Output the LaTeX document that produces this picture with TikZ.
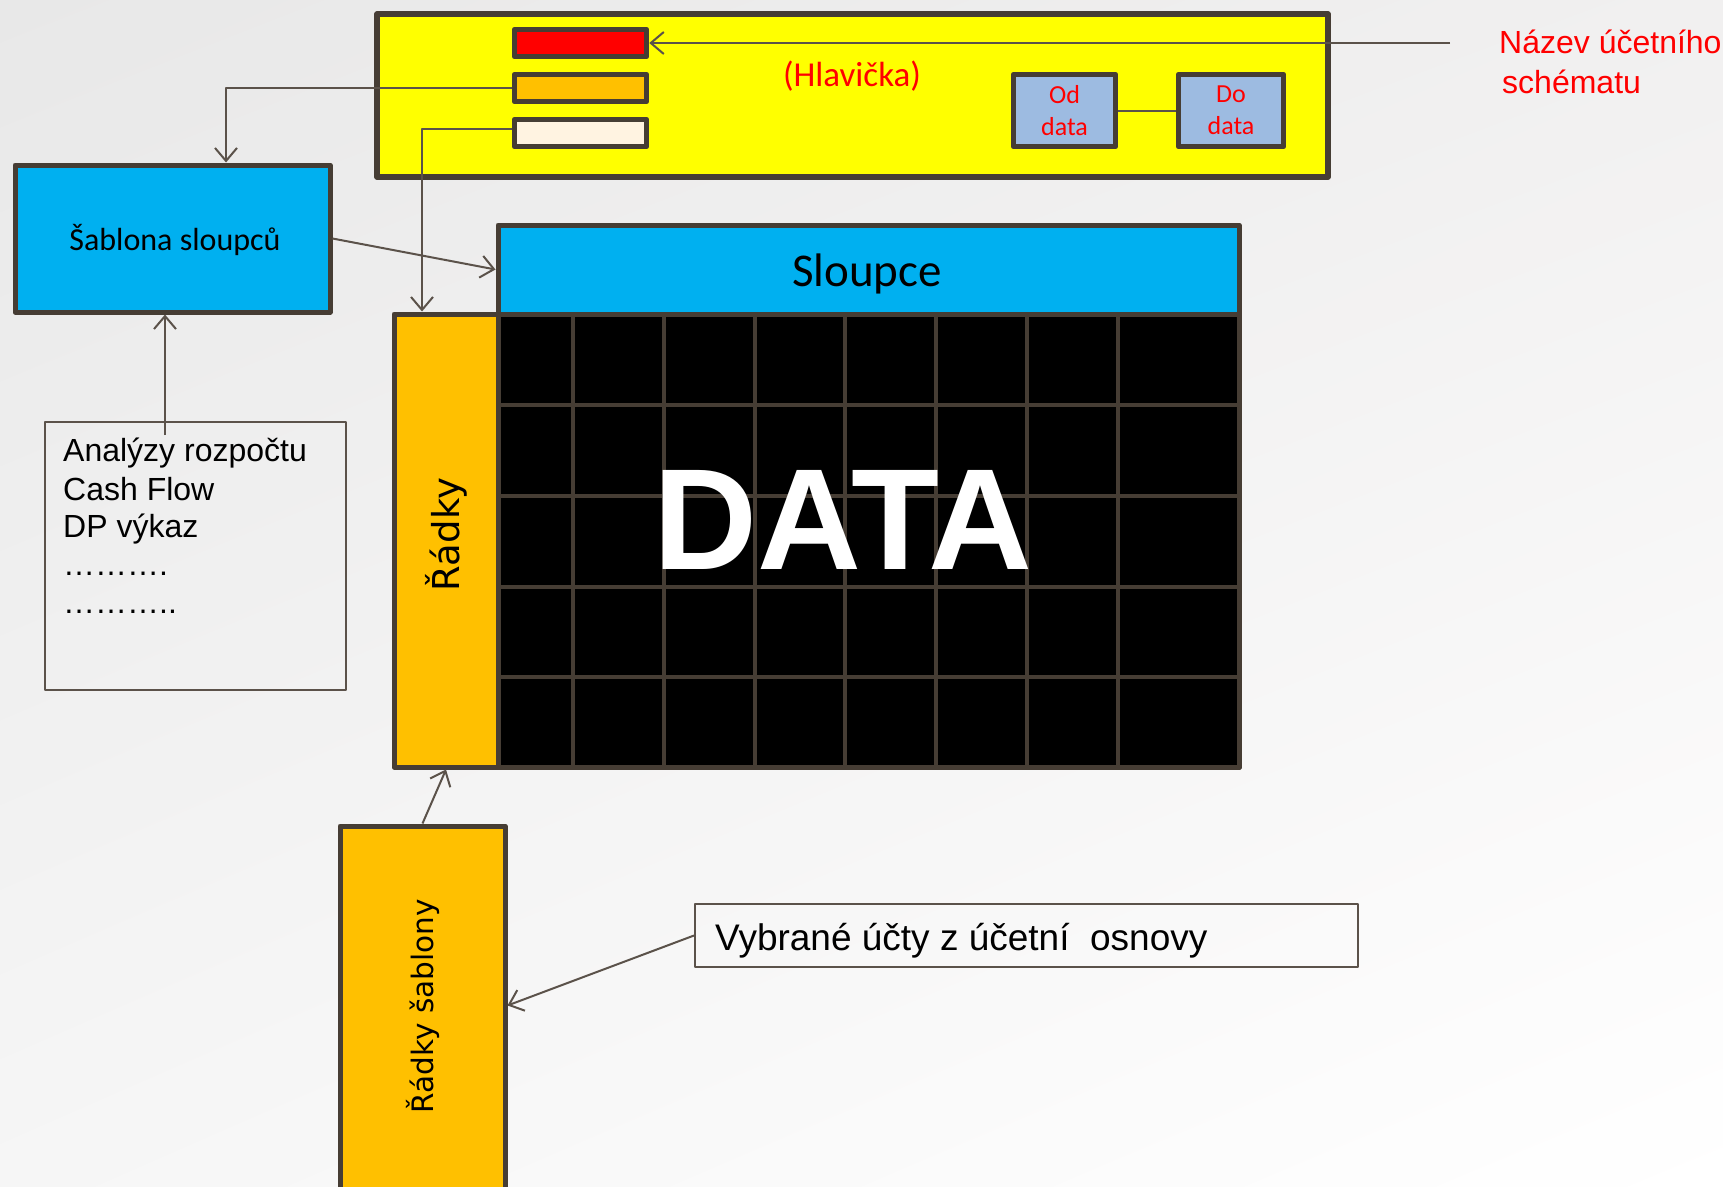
\documentclass[tikz,border=0pt]{standalone}
\usepackage{fontspec}
\setmainfont{Liberation Sans}
\newfontfamily\calfont{Carlito}
\newfontfamily\djfont{DejaVu Sans}
\usetikzlibrary{arrows.meta,calc,shadings}
\definecolor{bord}{HTML}{463D34}
\definecolor{conn}{HTML}{5B524A}
\definecolor{ylw}{HTML}{FFFF00}
\definecolor{rd}{HTML}{FF0000}
\definecolor{org}{HTML}{FFC000}
\definecolor{crm}{HTML}{FFF3E1}
\definecolor{blu}{HTML}{9DBBE1}
\definecolor{cyn}{HTML}{00B0F0}
\definecolor{bgul}{RGB}{232,232,232}
\definecolor{bgur}{RGB}{241,240,240}
\definecolor{bgll}{RGB}{246,246,246}
\definecolor{bglr}{RGB}{255,255,255}
\begin{document}
\begin{tikzpicture}[x=1pt,y=-1pt,line join=round,
  thick box/.style={draw=bord,line width=5.3pt,inner sep=0pt},
  barbox/.style={draw=bord,line width=5.5pt,inner sep=0pt,minimum width=132pt,minimum height=27pt},
  datebox/.style={draw=bord,line width=5.5pt,fill=blu,inner sep=0pt,minimum height=72pt,
    align=center,text=rd,font=\calfont\fontsize{26}{32}\selectfont},
  thinbox/.style={draw=conn,line width=2pt,inner sep=0pt},
  arr/.style={draw=conn,line width=2pt,-{Straight Barb[length=13pt,width=22pt]}},
  plain/.style={draw=conn,line width=2pt},
  gridline/.style={draw=bord,line width=3.5pt},
  txt/.style={inner sep=0pt,anchor=base west,font=\fontsize{32}{38}\selectfont}
]
\useasboundingbox (0,0) rectangle (1723,1186);
\clip (0,0) rectangle (1723,1186);
\shade[upper left=bgul,upper right=bgur,lower left=bgll,lower right=bglr] (0,0) rectangle (1723,1186);

% header
\node[thick box,fill=ylw,minimum width=951pt,minimum height=163pt] (hdr) at (852.5,95.5) {};
\node[barbox,fill=rd] (red) at (580.5,43) {};
\node[barbox,fill=org] (orange) at (580.5,88) {};
\node[barbox,fill=crm] (cream) at (580.5,133) {};
\node[inner sep=0pt,anchor=base,text=rd,font=\calfont\fontsize{35}{40}\selectfont] (hlav) at (852,86) {(Hlavička)};
\node[datebox,minimum width=102pt] (od) at (1064.5,110.5) {Od\\data};
\node[datebox,minimum width=105pt] (do) at (1231,110.5) {Do\\data};
\draw[plain] (od.east) -- (do.west);

% name label
\node[txt,text=rd] (nazev1) at (1499,53) {Název účetního};
\node[txt,text=rd] (nazev2) at (1502,93) {schématu};
\coordinate (nazstart) at (1450,43);

% sablona sloupcu
\node[thick box,line width=5pt,fill=cyn,minimum width=315pt,minimum height=147pt] (sab) at (172.5,238.5) {};
\node[inner sep=0pt,anchor=base,font=\calfont\fontsize{32}{38}\selectfont] (sabtxt) at (175,250) {Šablona sloupců};

% sloupce, data, radky
\node[draw=bord,line width=5pt,fill=cyn,inner sep=0pt,minimum width=741pt,minimum height=89pt] (sloupce) at (868.5,269.5) {};
\node[inner sep=0pt,anchor=base,font=\calfont\fontsize{47}{52}\selectfont] (sltxt) at (867,286) {Sloupce};
\node[draw=bord,line width=5pt,fill=black,inner sep=0pt,minimum width=741pt,minimum height=453pt] (data) at (868.5,540.5) {};
\foreach \gx in {573,664,755,845,936,1027,1118}
  \draw[gridline] (\gx,314) -- (\gx,767);
\foreach \gy in {405,496,587,677}
  \draw[gridline] (498,\gy) -- (1239,\gy);
\node[draw=bord,line width=5pt,inner sep=0pt,minimum width=741pt,minimum height=453pt] (dataframe) at (868.5,540.5) {};
\node[inner sep=0pt,anchor=base,text=white,font=\fontsize{144}{144}\selectfont\bfseries] (datatxt) at (843,569) {DATA};
\node[draw=bord,line width=5pt,fill=org,inner sep=0pt,minimum width=104pt,minimum height=453pt] (radky) at (446,540.5) {};
\node[inner sep=0pt,rotate=90,font=\djfont\fontsize{37}{42}\selectfont] (radtxt) at (446,534.5) {Řádky};

% analyzy box
\node[thinbox,minimum width=301pt,minimum height=268pt] (anbox) at (195.5,556) {};
\node[txt] (an1) at (63,461) {Analýzy rozpočtu};
\node[txt] (an2) at (63,500) {Cash Flow};
\node[txt] (an3) at (63,537) {DP výkaz};
\node[txt] (an4) at (63,575) {……….};
\node[txt] (an5) at (63,613) {………..};
\coordinate (anstart) at (165,435);

% radky sablony
\node[draw=bord,line width=5pt,fill=org,inner sep=0pt,minimum width=165pt,minimum height=424pt] (rsab) at (422.5,1038) {};
\node[inner sep=0pt,rotate=90,font=\djfont\fontsize{29.5}{34}\selectfont] (rsabtxt) at (422.5,1006) {Řádky šablony};

% vybrane ucty
\node[thinbox,minimum width=663pt,minimum height=63pt] (vyb) at (1026.5,935.5) {};
\node[txt,font=\fontsize{37}{42}\selectfont] (vybtxt) at (715,950) {Vybrané účty z účetní\ \ osnovy};

% connectors
\path (sab.north) ++(53.5,0) coordinate (sabtop);
\path (radky.north) ++(-24,0) coordinate (radtop);
\path (rsab.north east) ++(0,182) coordinate (rsabpt);
\draw[arr] (nazstart) -- (red.east);
\draw[arr] (orange.west) -| (sabtop);
\draw[arr] ([yshift=4pt]cream.west) -| (radtop);
\draw[arr] (sab.east) -- (sloupce.west);
\draw[arr] (anstart) -- (sab.south -| anstart);
\draw[arr] (rsab.north) -- (radky.south);
\draw[arr] (vyb.west) -- (rsabpt);
\end{tikzpicture}
\end{document}
